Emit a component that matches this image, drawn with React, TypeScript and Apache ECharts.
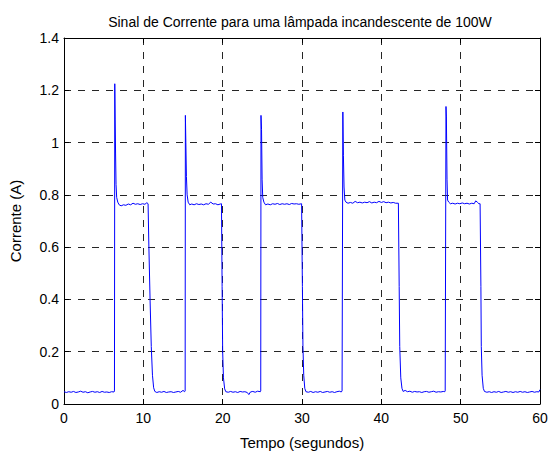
import React, { useEffect, useRef } from "react";
import * as echarts from "echarts";

// Textos do gráfico
const titulo = "Sinal de Corrente para uma lâmpada incandescente de 100W";
const nomeEixoX = "Tempo (segundos)";
const nomeEixoY = "Corrente (A)";

// Escalas dos eixos
const tempoMin = 0;
const tempoMax = 60;
const tempoPasso = 10;
const correnteMin = 0;
const correnteMax = 1.4;
const correntePasso = 0.2;

// Amostras [tempo (s), corrente (A)] — lâmpada desligada
const desligado0 = [
  [0, 0.047], [0.3, 0.044], [0.6, 0.047], [0.9, 0.045], [1.2, 0.048], [1.5, 0.044],
  [1.8, 0.046], [2.1, 0.049], [2.4, 0.045], [2.7, 0.047], [3.0, 0.043], [3.3, 0.046],
  [3.6, 0.048], [3.9, 0.045], [4.2, 0.047], [4.5, 0.044], [4.8, 0.048], [5.1, 0.045],
  [5.4, 0.046], [5.7, 0.044], [6.0, 0.047], [6.3, 0.046],
];

// Ligação 1: pico de partida (filamento frio), patamar e desligamento
const ligado1 = [
  [6.36, 0.05], [6.4, 1.225], [6.45, 1.09], [6.5, 0.96], [6.56, 0.84], [6.64, 0.79],
  [6.78, 0.772], [6.95, 0.762], [7.2, 0.758], [7.5, 0.762], [7.8, 0.76], [8.1, 0.765],
  [8.4, 0.762], [8.7, 0.768], [9.0, 0.764], [9.3, 0.766], [9.6, 0.763], [9.9, 0.766],
  [10.2, 0.764], [10.45, 0.77], [10.6, 0.766], [10.7, 0.6], [10.85, 0.4], [11.0, 0.22],
  [11.15, 0.11], [11.3, 0.062], [11.45, 0.048],
];

const desligado1 = [
  [11.7, 0.044], [12.0, 0.047], [12.3, 0.045], [12.6, 0.048], [12.9, 0.044], [13.2, 0.046],
  [13.5, 0.047], [13.8, 0.044], [14.1, 0.046], [14.4, 0.048], [14.7, 0.045], [15.0, 0.052],
  [15.2, 0.047],
];

const ligado2 = [
  [15.27, 0.05], [15.3, 1.104], [15.36, 1.0], [15.43, 0.87], [15.52, 0.8], [15.65, 0.772],
  [15.85, 0.762], [16.1, 0.765], [16.4, 0.762], [16.7, 0.766], [17.0, 0.763], [17.3, 0.765],
  [17.6, 0.762], [17.9, 0.766], [18.2, 0.764], [18.5, 0.772], [18.8, 0.765], [19.1, 0.766],
  [19.4, 0.762], [19.7, 0.765], [19.85, 0.766], [19.93, 0.45], [20.0, 0.2], [20.1, 0.1],
  [20.25, 0.058], [20.4, 0.047],
];

const desligado2 = [
  [20.7, 0.045], [21.0, 0.048], [21.3, 0.045], [21.6, 0.047], [21.9, 0.044], [22.2, 0.048],
  [22.5, 0.046], [22.8, 0.047], [23.1, 0.044], [23.3, 0.036], [23.5, 0.046], [23.8, 0.048],
  [24.1, 0.045], [24.4, 0.049], [24.75, 0.047],
];

const ligado3 = [
  [24.8, 0.05], [24.83, 1.104], [24.9, 1.05], [24.97, 0.86], [25.05, 0.79], [25.2, 0.772],
  [25.4, 0.762], [25.7, 0.765], [26.0, 0.762], [26.3, 0.766], [26.6, 0.764], [26.9, 0.767],
  [27.2, 0.763], [27.5, 0.766], [27.8, 0.764], [28.1, 0.766], [28.4, 0.763], [28.7, 0.767],
  [29.0, 0.765], [29.3, 0.766], [29.6, 0.764], [29.95, 0.766], [30.05, 0.45], [30.12, 0.22],
  [30.22, 0.11], [30.35, 0.06], [30.5, 0.047],
];

const desligado3 = [
  [30.8, 0.045], [31.1, 0.048], [31.4, 0.044], [31.7, 0.047], [32.0, 0.045], [32.3, 0.048],
  [32.6, 0.044], [32.9, 0.046], [33.2, 0.048], [33.5, 0.045], [33.8, 0.047], [34.1, 0.044],
  [34.4, 0.047], [34.7, 0.049], [34.95, 0.046],
];

const ligado4 = [
  [35.05, 0.05], [35.15, 1.117], [35.22, 0.95], [35.3, 0.83], [35.4, 0.78], [35.55, 0.772],
  [35.8, 0.768], [36.1, 0.771], [36.4, 0.768], [36.7, 0.775], [37.0, 0.77], [37.3, 0.772],
  [37.6, 0.769], [37.9, 0.772], [38.2, 0.77], [38.5, 0.774], [38.8, 0.769], [39.1, 0.772],
  [39.4, 0.77], [39.7, 0.775], [40.0, 0.771], [40.3, 0.774], [40.6, 0.77], [40.9, 0.772],
  [41.2, 0.769], [41.5, 0.771], [41.8, 0.768], [42.15, 0.768], [42.25, 0.45], [42.32, 0.22],
  [42.45, 0.1], [42.6, 0.06], [42.75, 0.048],
];

const desligado4 = [
  [43.0, 0.052], [43.3, 0.047], [43.6, 0.049], [43.9, 0.045], [44.2, 0.048], [44.5, 0.046],
  [44.8, 0.047], [45.1, 0.044], [45.4, 0.047], [45.7, 0.048], [46.0, 0.045], [46.3, 0.047],
  [46.6, 0.049], [46.9, 0.045], [47.2, 0.047], [47.5, 0.046], [47.8, 0.048], [48.0, 0.047],
];

const ligado5 = [
  [48.05, 0.05], [48.15, 1.138], [48.2, 1.098], [48.28, 0.86], [48.35, 0.78], [48.5, 0.772],
  [48.7, 0.766], [49.0, 0.768], [49.3, 0.765], [49.6, 0.768], [49.9, 0.766], [50.2, 0.769],
  [50.5, 0.766], [50.8, 0.768], [51.1, 0.765], [51.4, 0.768], [51.7, 0.766], [51.9, 0.777],
  [52.1, 0.772], [52.3, 0.766], [52.45, 0.766], [52.55, 0.45], [52.6, 0.22], [52.7, 0.11],
  [52.85, 0.06], [53.0, 0.048],
];

const desligado5 = [
  [53.3, 0.045], [53.6, 0.047], [53.9, 0.044], [54.2, 0.047], [54.5, 0.045], [54.8, 0.048],
  [55.1, 0.044], [55.4, 0.046], [55.7, 0.048], [56.0, 0.045], [56.3, 0.047], [56.6, 0.044],
  [56.9, 0.047], [57.2, 0.045], [57.5, 0.048], [57.8, 0.045], [58.1, 0.047], [58.4, 0.044],
  [58.7, 0.046], [59.0, 0.048], [59.3, 0.045], [59.6, 0.047], [59.85, 0.046], [60, 0.055],
];

const FONTE = '"Liberation Sans", Arial, Helvetica, sans-serif';
const LARGURA = 551;
const ALTURA = 455;

export default function App() {
  const ref = useRef<HTMLDivElement>(null);

  useEffect(() => {
    if (!ref.current) return;
    const chart = echarts.init(ref.current, undefined, { renderer: "svg" });

    const sinal = [
      ...desligado0, ...ligado1, ...desligado1, ...ligado2, ...desligado2,
      ...ligado3, ...desligado3, ...ligado4, ...desligado4, ...ligado5, ...desligado5,
    ];

    const grade = {
      show: true,
      lineStyle: { color: "#000", width: 1, type: [7, 7] as number[], opacity: 0.85 },
    };
    const marcas = { show: true, inside: true, length: 5, lineStyle: { color: "#000", width: 1 } };
    const linhaEixo = { show: true, onZero: false, lineStyle: { color: "#000", width: 1 } };
    const rotulo = { color: "#000", fontFamily: FONTE, fontSize: 14 };

    chart.setOption({
      animation: false,
      backgroundColor: "#fff",
      graphic: [
        {
          type: "text",
          x: 300,
          y: 22,
          style: {
            text: titulo,
            fill: "#000",
            font: `14px ${FONTE}`,
            textAlign: "center",
            textVerticalAlign: "middle",
          },
        },
      ],
      grid: { left: 60, right: 11, top: 38, bottom: 38, containLabel: false },
      xAxis: [
        {
          type: "value",
          min: tempoMin,
          max: tempoMax,
          interval: tempoPasso,
          position: "bottom",
          name: nomeEixoX,
          nameLocation: "middle",
          nameGap: 31,
          nameTextStyle: { color: "#000", fontFamily: FONTE, fontSize: 15 },
          axisLine: linhaEixo,
          axisTick: marcas,
          axisLabel: { ...rotulo, margin: 7 },
          splitLine: grade,
        },
        {
          type: "value",
          min: tempoMin,
          max: tempoMax,
          interval: tempoPasso,
          position: "top",
          axisLine: linhaEixo,
          axisTick: marcas,
          axisLabel: { show: false },
          splitLine: { show: false },
        },
      ],
      yAxis: [
        {
          type: "value",
          min: correnteMin,
          max: correnteMax,
          interval: correntePasso,
          position: "left",
          name: nomeEixoY,
          nameLocation: "middle",
          nameGap: 41,
          nameTextStyle: { color: "#000", fontFamily: FONTE, fontSize: 15 },
          axisLine: linhaEixo,
          axisTick: marcas,
          axisLabel: { ...rotulo, margin: 5 },
          splitLine: grade,
        },
        {
          type: "value",
          min: correnteMin,
          max: correnteMax,
          interval: correntePasso,
          position: "right",
          axisLine: linhaEixo,
          axisTick: marcas,
          axisLabel: { show: false },
          splitLine: { show: false },
        },
      ],
      series: [
        {
          type: "line",
          xAxisIndex: 0,
          yAxisIndex: 0,
          data: sinal,
          showSymbol: false,
          symbol: "none",
          lineStyle: { color: "#0000ff", width: 1 },
          clip: true,
        },
      ],
    });

    return () => chart.dispose();
  }, []);

  return (
    <div
      ref={ref}
      style={{ position: "fixed", left: 0, top: 0, width: LARGURA, height: ALTURA, background: "#fff" }}
    />
  );
}
